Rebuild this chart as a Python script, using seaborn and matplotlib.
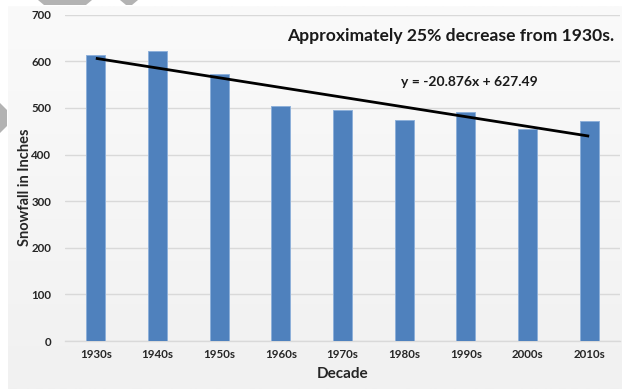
import numpy as np
import matplotlib
matplotlib.use("Agg")
import matplotlib.pyplot as plt
from matplotlib.patches import Polygon
import seaborn as sns

# Snowfall totals per decade
decades = ["1930s", "1940s", "1950s", "1960s", "1970s", "1980s", "1990s", "2000s", "2010s"]
snowfall = [614, 622, 573, 505, 495, 475, 491, 455, 473]

# Linear trend (x = 1 for the first decade)
trend_slope = -20.876
trend_intercept = 627.49

y_ticks = [0, 100, 200, 300, 400, 500, 600, 700]

sns.set_theme(style="white")
plt.rcParams["font.family"] = ["Lato", "DejaVu Sans"]

W, H = 631, 389
fig = plt.figure(figsize=(W / 100, H / 100), dpi=100, facecolor="white")

# Chart panel with a soft vertical gradient
bg = fig.add_axes([8 / W, 0, (622 - 8) / W, 1 - 6 / H])
grad = np.linspace(0, 1, 256).reshape(-1, 1)
bg.imshow(grad, aspect="auto", cmap=matplotlib.colors.LinearSegmentedColormap.from_list(
    "panel", ["#fafafa", "#f1f1f1"]), extent=[0, 1, 0, 1], origin="upper")
bg.set_axis_off()

# Decorative gray shapes along the top-left border
deco = fig.add_axes([0, 0, 1, 1], facecolor="none")
deco.set_xlim(0, W)
deco.set_ylim(H, 0)
deco.set_axis_off()
deco.add_patch(Polygon([[38, 0], [92, 0], [86, 5], [44, 5]], closed=True, color="#b3b3b3", lw=0))
deco.add_patch(Polygon([[120, 0], [138, 0], [132, 5], [126, 5]], closed=True, color="#b3b3b3", lw=0))
deco.add_patch(Polygon([[0, 103], [7, 110], [7, 126], [0, 133]], closed=True, color="#b3b3b3", lw=0))

ax = fig.add_axes([65 / W, 1 - 341 / H, (620 - 65) / W, (341 - 14.8) / H])
ax.set_facecolor("none")

sns.barplot(x=decades, y=snowfall, color="#4f81bd", width=0.31, saturation=1,
            edgecolor="#8eb0da", linewidth=0.7, ax=ax, zorder=3)

xs = np.arange(len(decades))
ax.plot(xs, trend_slope * (xs + 1) + trend_intercept, color="black", lw=2, zorder=4,
        solid_capstyle="butt")

ax.set_ylim(0, 700)
ax.set_xlim(-0.5, len(decades) - 0.5)
ax.set_yticks(y_ticks)
ax.yaxis.grid(True, color="#d9d9d9", lw=1)
ax.set_axisbelow(True)
for side in ["top", "right", "left"]:
    ax.spines[side].set_visible(False)
ax.spines["bottom"].set_color("#d9d9d9")
ax.spines["bottom"].set_linewidth(1)
ax.tick_params(axis="both", length=0, labelsize=8.3, colors="#262626")
ax.tick_params(axis="y", pad=10)
ax.tick_params(axis="x", pad=6)
for lbl in ax.get_xticklabels() + ax.get_yticklabels():
    lbl.set_fontweight("bold")

ax.set_xlabel("Decade", fontsize=11, fontweight="bold", color="#262626", labelpad=5)
ax.set_ylabel("Snowfall in Inches", fontsize=10.5, fontweight="bold", color="#262626")
ax.yaxis.set_label_coords(-0.06, 0.47)

fig.text(451 / W, 1 - 36 / H, "Approximately 25% decrease from 1930s.",
         ha="center", va="center", fontsize=12.6, fontweight="bold", color="#1a1a1a")
fig.text(469 / W, 1 - 82 / H, "y = -20.876x + 627.49",
         ha="center", va="center", fontsize=10, fontweight="bold", color="#1a1a1a")

fig.savefig("out.png", dpi=100, facecolor="white")
